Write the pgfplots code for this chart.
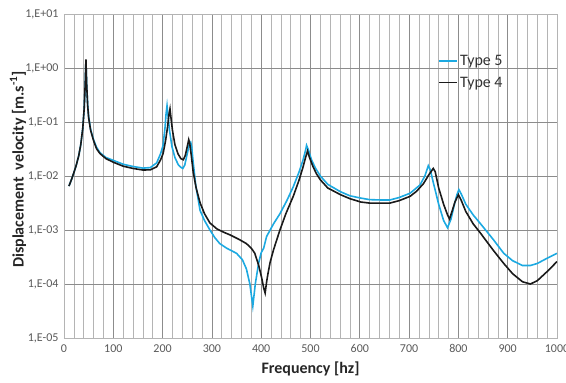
\documentclass[border=0pt]{standalone}
\usepackage{fontspec}
\setmainfont{Carlito}
\usepackage{pgfplots}
\pgfplotsset{compat=1.18}
\definecolor{tfive}{HTML}{1CA9E1}
\definecolor{tfour}{HTML}{1A1A1A}
\definecolor{majg}{HTML}{8C8C8C}
\definecolor{ming}{HTML}{B4B4B4}
\definecolor{ticktxt}{HTML}{595959}
\begin{document}
\begin{tikzpicture}[x=1pt,y=1pt]
\path[use as bounding box] (-64pt,-45pt) rectangle (502pt,338pt);
\begin{axis}[
  scale only axis, width=493pt, height=324pt,
  xmin=0, xmax=1000, ymode=log, ymin=1e-5, ymax=10,
  log basis y=10,
  xtick={0,100,...,1000},
  minor x tick num=4,
  ytick={1e-5,1e-4,1e-3,1e-2,1e-1,1,10},
  yticklabels={{1,E-05},{1,E-04},{1,E-03},{1,E-02},{1,E-01},{1,E+00},{1,E+01}},
  /pgf/number format/assume math mode=true,
  /pgf/number format/1000 sep={},
  xticklabel style={font=\fontsize{12}{14}\selectfont, text=ticktxt, yshift=-3pt},
  yticklabel style={font=\fontsize{12}{14}\selectfont, text=ticktxt, xshift=-2pt},
  major tick length=0pt, minor tick length=0pt,
  grid=both,
  major grid style={majg, line width=0.7pt},
  minor grid style={ming, line width=0.6pt},
  axis line style={ming, line width=0.6pt},
  xlabel={Frequency [hz]},
  ylabel={Displacement\ \ velocity [m.s\textsuperscript{-1}]},
  xlabel style={font=\fontsize{16}{19}\selectfont\bfseries, text=black!85, at={(axis description cs:0.5,0)}, anchor=center, yshift=-31pt},
  ylabel style={font=\fontsize{16}{19}\selectfont\bfseries, text=black!85, at={(axis description cs:0,0.52)}, anchor=center, yshift=46pt},
  legend style={draw=none, fill=none, at={(0.757,0.882)}, anchor=north west,
    font=\fontsize{16}{19}\selectfont, text=black!80, row sep=6pt, inner sep=1pt},
  legend cell align=left,
  legend image code/.code={\draw[#1, line width=1.8pt] (0pt,0.5pt) -- (18pt,0.5pt);},
]
\addplot[tfive, line width=1.6pt] coordinates {
(10,6.5e-3) (15,8.5e-3) (20,0.0115) (25,0.016) (30,0.024) (34,0.038) (38,0.075)
(41,0.18) (43,0.5) (44.5,1.35) (46,0.5) (48,0.21) (50,0.125) (54,0.073) (60,0.047)
(66,0.034) (73,0.027) (85,0.022) (100,0.0195) (120,0.0165) (140,0.015) (160,0.014)
(175,0.0143) (188,0.0175) (196,0.026) (201,0.037) (205,0.08) (207,0.14) (209,0.2)
(211,0.13) (214,0.07) (219,0.035) (225,0.022) (232,0.016) (237,0.0145) (241,0.0138)
(245,0.016) (250,0.026) (254,0.038) (257,0.042) (259,0.035) (262,0.018) (267,7e-3)
(276,2.3e-3) (285,1.5e-3) (296,1e-3) (306,7.2e-4) (316,5.6e-4) (330,4.6e-4)
(350,3.7e-4) (362,2.8e-4) (370,1.9e-4) (377,1e-4) (383,3.9e-5) (388,1e-4)
(395,2.5e-4) (400,3.8e-4) (405,4.6e-4) (411,7.6e-4) (425,1.3e-3) (438,2e-3)
(452,3.5e-3) (465,6.3e-3) (477,0.012) (485,0.02) (490,0.03) (492,0.037) (496,0.03)
(502,0.02) (510,0.014) (520,0.01) (535,7e-3) (561,5.1e-3) (580,4.3e-3) (602,3.9e-3)
(620,3.65e-3) (642,3.6e-3) (661,3.6e-3) (680,4e-3) (702,4.8e-3) (722,6.8e-3)
(732,0.01) (739,0.0155) (743,0.013) (750,7e-3) (760,3e-3) (770,1.5e-3) (778,1.1e-3)
(785,1.6e-3) (792,3e-3) (797,4.5e-3) (801,5.6e-3) (806,4.6e-3) (815,3e-3)
(830,1.9e-3) (845,1.3e-3) (870,6.8e-4) (892,3.7e-4) (910,2.7e-4) (930,2.2e-4)
(946,2.2e-4) (960,2.4e-4) (980,3e-4) (1000,3.7e-4)
};
\addlegendentry{Type 5}
\addplot[tfour, line width=1.6pt] coordinates {
(10,6.5e-3) (15,8.5e-3) (20,0.0115) (25,0.016) (30,0.024) (34,0.038) (38,0.075)
(41,0.18) (43,0.5) (44.5,1.45) (46,0.5) (48,0.2) (50,0.12) (54,0.07) (60,0.045)
(66,0.032) (73,0.026) (85,0.021) (100,0.018) (120,0.0152) (140,0.0138) (160,0.0129)
(175,0.013) (188,0.0148) (196,0.02) (201,0.026) (206,0.045) (210,0.08) (213,0.14)
(215,0.175) (217,0.12) (220,0.07) (225,0.038) (231,0.026) (237,0.021) (242,0.02)
(246,0.024) (250,0.035) (253,0.047) (255,0.04) (258,0.025) (262,0.012) (268,6e-3)
(276,3.2e-3) (285,2e-3) (296,1.35e-3) (310,1.05e-3) (325,9e-4) (337,8.1e-4)
(355,6.7e-4) (370,5.6e-4) (380,4.6e-4) (387,3.7e-4) (395,2.2e-4) (401,1.3e-4)
(405,8.5e-5) (408,6.8e-5) (411,1.1e-4) (414,1.6e-4) (418,2.5e-4) (425,4.3e-4)
(438,1e-3) (450,2e-3) (465,4.2e-3) (477,8.5e-3) (485,0.0148) (490,0.022) (494,0.029)
(498,0.022) (505,0.015) (512,0.011) (520,8.5e-3) (535,6e-3) (561,4.5e-3) (580,3.8e-3)
(602,3.3e-3) (620,3.15e-3) (642,3.15e-3) (661,3.15e-3) (680,3.5e-3) (702,4.2e-3)
(715,5.2e-3) (729,7.2e-3) (740,0.0105) (749,0.0138) (753,0.012) (760,6e-3) (770,3e-3)
(778,1.9e-3) (782,1.6e-3) (787,2.2e-3) (793,3.3e-3) (800,4.5e-3) (806,3.5e-3)
(815,2.2e-3) (830,1.3e-3) (845,8.7e-4) (870,4.3e-4) (892,2.4e-4) (910,1.55e-4)
(930,1.1e-4) (946,1e-4) (960,1.15e-4) (980,1.7e-4) (1000,2.6e-4)
};
\addlegendentry{Type 4}
\end{axis}
\end{tikzpicture}
\end{document}
